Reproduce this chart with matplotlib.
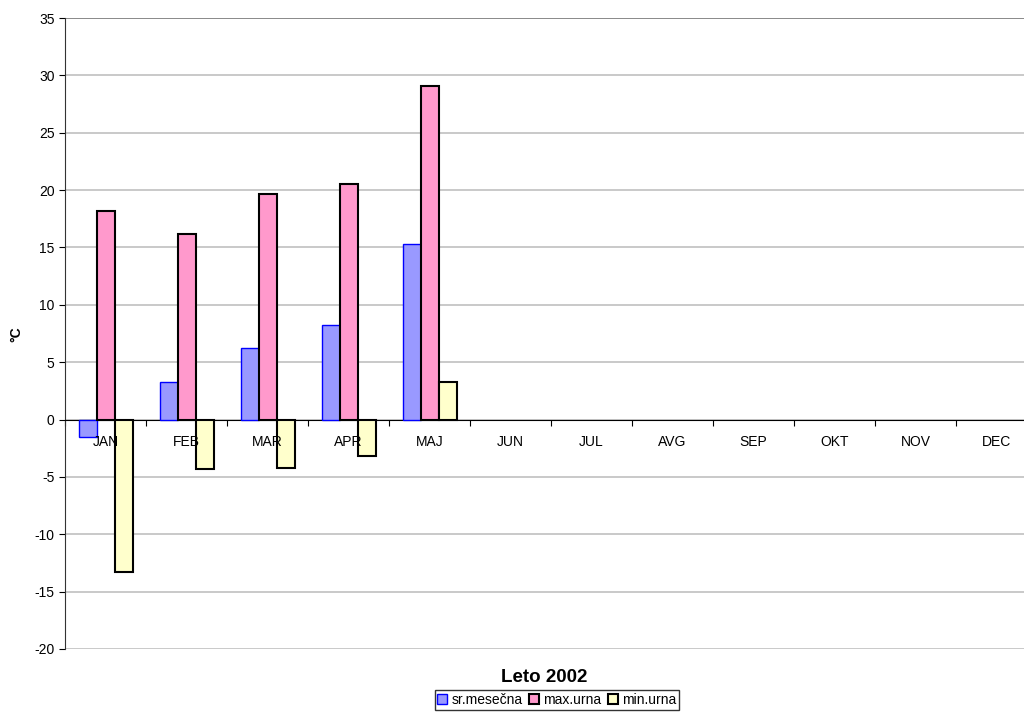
import matplotlib.pyplot as plt
import numpy as np

plt.rcParams['font.family'] = ['Liberation Sans', 'DejaVu Sans']
plt.rcParams['axes.unicode_minus'] = False

# data
months = ['JAN', 'FEB', 'MAR', 'APR', 'MAJ', 'JUN', 'JUL', 'AVG', 'SEP', 'OKT', 'NOV', 'DEC']
sr_mesecna = [-1.5, 3.3, 6.2, 8.2, 15.3]
max_urna = [18.2, 16.2, 19.7, 20.5, 29.1]
min_urna = [-13.3, -4.3, -4.2, -3.2, 3.3]

fig = plt.figure(figsize=(10.24, 7.13), dpi=100)
# plot area runs a little past the right edge of the picture (as in the original)
ax = fig.add_axes([65/1024, 1-649/713, 972/1024, (649-18)/713])

w = 1/4.5
x = np.arange(len(sr_mesecna))
ax.bar(x - w, sr_mesecna, w, color='#9999FF', edgecolor='#0000FF', linewidth=1, label='sr.mesečna', zorder=3)
ax.bar(x, max_urna, w, color='#FF99CC', edgecolor='black', linewidth=1.5, label='max.urna', zorder=3)
ax.bar(x + w, min_urna, w, color='#FFFFCC', edgecolor='black', linewidth=1.5, label='min.urna', zorder=3)

ax.set_xlim(-0.5, len(months) - 0.5)
ax.set_ylim(-20, 35)
ax.set_yticks(range(-20, 36, 5))
ax.yaxis.grid(True, color='#c0c0c0', linewidth=1.2, zorder=0)
ax.set_axisbelow(True)

# ticks between categories, month names drawn on top of the bars
ax.set_xticks(np.arange(len(months) + 1) - 0.5)
ax.set_xticklabels([])
ax.tick_params(axis='x', which='major', length=4, direction='out')
ax.tick_params(axis='y', length=4, labelsize=10)
for i, m in enumerate(months):
    ax.annotate(m, (i, 0), xytext=(0, -11), textcoords='offset points',
                ha='center', va='top', fontsize=10, zorder=5)

ax.spines['bottom'].set_position(('data', 0))
ax.spines['top'].set_visible(False)
ax.spines['right'].set_visible(False)
ax.spines['left'].set_color('#333333')
ax.spines['bottom'].set_color('black')
ax.axhline(35, color='#808080', linewidth=1.2, zorder=1)

fig.text(16/1024, 1-334/713, '°C', fontsize=10, fontweight='bold', rotation=90, ha='center', va='center')
fig.text(544/1024, 1-678/713, 'Leto 2002', fontsize=13.5, fontweight='bold', ha='center', va='center')

leg = fig.legend(loc='center', bbox_to_anchor=(557/1024, 1-700/713), ncol=3, fontsize=10,
                 frameon=True, fancybox=False, edgecolor='black', handlelength=0.7, handleheight=0.7,
                 handletextpad=0.3, columnspacing=0.5, borderpad=0.2, borderaxespad=0)
leg.get_frame().set_linewidth(1)

fig.savefig('out.png', dpi=100)
